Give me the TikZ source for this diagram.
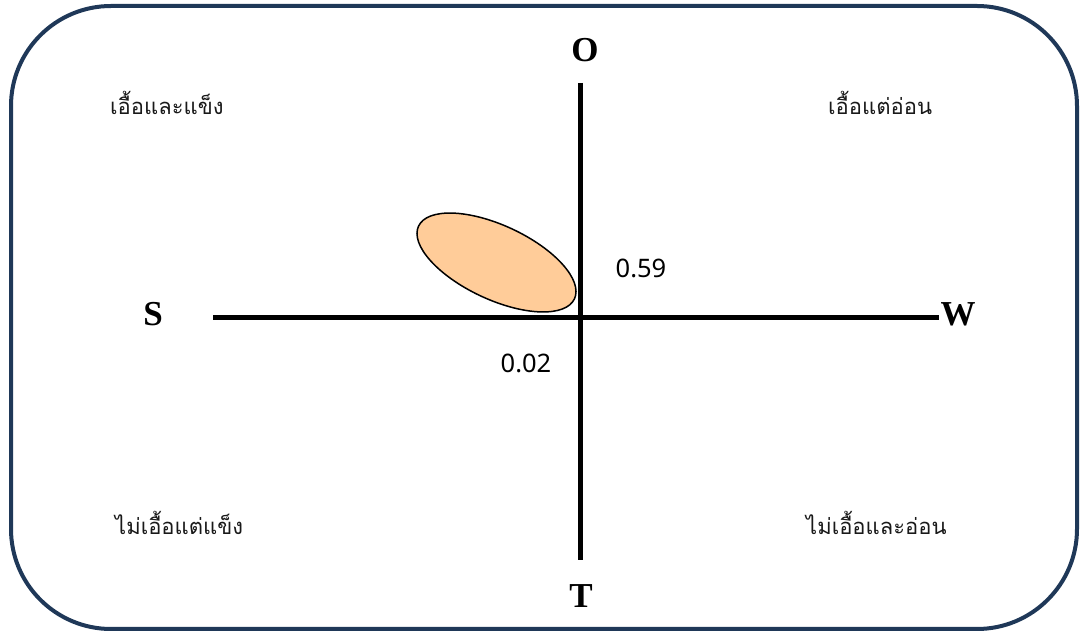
\documentclass[tikz,border=0pt]{standalone}
\usepackage{fontspec}
\setmainfont{Liberation Serif}
\newfontfamily\thaifont[Script=Thai]{Loma}
\newfontfamily\numfont{Noto Sans}
\definecolor{frame}{RGB}{31,56,88}
\definecolor{peach}{RGB}{255,204,153}
\begin{document}
\begin{tikzpicture}[x=1pt,y=1pt,
  axis/.style={line width=5pt, black},
  axlabel/.style={inner sep=0pt, font=\fontsize{35}{40}\selectfont\bfseries},
  thai/.style={inner sep=0pt, anchor=base west, font=\thaifont\fontsize{22}{26}\selectfont, text=black!90},
  num/.style={inner sep=0pt, font=\numfont\fontsize{25.5}{30}\selectfont}]
\useasboundingbox (0,0) rectangle (1080,632);
\draw[line width=4pt, frame, rounded corners=100pt] (11,3) rectangle (1077,626);
% axes
\coordinate (vtop) at (580.5,549);
\coordinate (vbot) at (580.5,72);
\coordinate (hl) at (213,314.5);
\coordinate (hr) at (939,314.5);
\draw[axis] (vtop) -- (vbot);
\draw[axis] (hl) -- (hr);
% ellipse
\draw[line width=1.5pt, fill=peach] (496.5,369.5) ellipse[x radius=86, y radius=37, rotate=-25];
% axis labels
\node[axlabel] (O) at (585,582) {O};
\node[axlabel] (S) at (153,318) {S};
\node[axlabel] (W) at (958,318) {W};
\node[axlabel] (T) at (581,36) {T};
% numbers
\node[num] (n59) at (641,364) {0.59};
\node[num] (n02) at (526,269) {0.02};
% quadrant texts
\node[thai] (q1) at (110,517) {เอื้อและแข็ง};
\node[thai] (q2) at (828,517) {เอื้อแต่อ่อน};
\node[thai] (q3) at (115,97) {ไม่เอื้อแต่แข็ง};
\node[thai] (q4) at (806,97) {ไม่เอื้อและอ่อน};
\end{tikzpicture}
\end{document}
